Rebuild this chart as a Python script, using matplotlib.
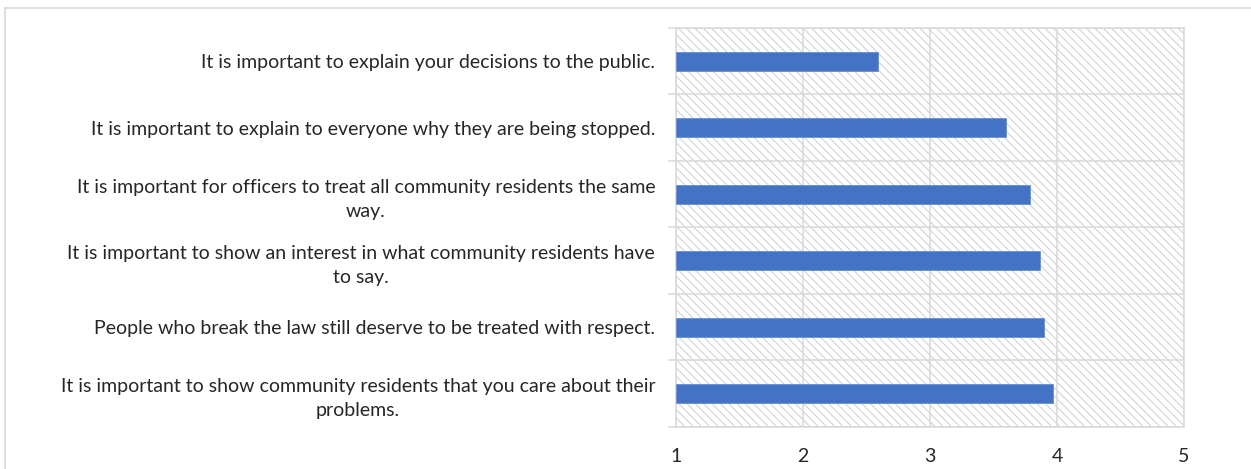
import matplotlib.pyplot as plt
from matplotlib.patches import Rectangle
from matplotlib.lines import Line2D

# Survey statements (top to bottom) and their mean agreement scores
statements = [
    "It is important to explain your decisions to the public.",
    "It is important to explain to everyone why they are being stopped.",
    "It is important for officers to treat all community residents the same\nway.",
    "It is important to show an interest in what community residents have\nto say.",
    "People who break the law still deserve to be treated with respect.",
    "It is important to show community residents that you care about their\nproblems.",
]
scores = [2.59, 3.60, 3.79, 3.87, 3.90, 3.97]
x_ticks = [1, 2, 3, 4, 5]

BAR_COLOR = '#4472C4'
GRID_COLOR = '#d9d9d9'
TEXT_COLOR = '#262626'

plt.rcParams['font.family'] = ['Lato', 'DejaVu Sans']
plt.rcParams['hatch.color'] = '#d0d0d0'
plt.rcParams['hatch.linewidth'] = 0.75

fig = plt.figure(figsize=(12.51, 4.69), dpi=100)
ax = fig.add_axes([676 / 1251, 42 / 469, 508 / 1251, 399 / 469])

# hatched plot-area background
ax.patch.set_visible(False)
ax.add_patch(Rectangle((0, 0), 1, 1, transform=ax.transAxes, facecolor='white',
                       edgecolor='#d0d0d0', hatch='\\\\\\\\', lw=0, zorder=0))

y = list(range(len(statements)))
ax.barh(y, [s - 1 for s in scores], left=1, height=0.28, color=BAR_COLOR,
        edgecolor='#6a8fd3', linewidth=0.6, zorder=3)

ax.set_xlim(1, 5)
ax.set_ylim(len(statements) - 0.5, -0.5)
ax.set_xticks(x_ticks)
ax.set_xticklabels([str(t) for t in x_ticks], fontsize=14, color=TEXT_COLOR)
ax.set_yticks(y)
ax.set_yticklabels(statements, fontsize=14, color=TEXT_COLOR,
                   multialignment='center', linespacing=1.5)
ax.set_yticks([i - 0.5 for i in range(len(statements) + 1)], minor=True)

ax.tick_params(axis='x', length=0, pad=15)
ax.tick_params(axis='y', which='major', length=0, pad=15)
ax.tick_params(axis='y', which='minor', length=6, width=1.1, color=GRID_COLOR,
               direction='out')

ax.grid(axis='x', which='major', color=GRID_COLOR, lw=1.1, zorder=1)
ax.grid(axis='y', which='minor', color=GRID_COLOR, lw=1.1, zorder=1)
ax.set_axisbelow(True)
for side in ['top', 'bottom', 'right', 'left']:
    ax.spines[side].set_color(GRID_COLOR)
    ax.spines[side].set_linewidth(1.1)

# chart frame
fig.add_artist(Line2D([5 / 1251, 5 / 1251], [0, 1 - 8 / 469],
                      transform=fig.transFigure, color=GRID_COLOR, lw=1.2))
fig.add_artist(Line2D([5 / 1251, 1], [1 - 8 / 469, 1 - 8 / 469],
                      transform=fig.transFigure, color=GRID_COLOR, lw=1.2))

fig.savefig('out.png', dpi=100)
